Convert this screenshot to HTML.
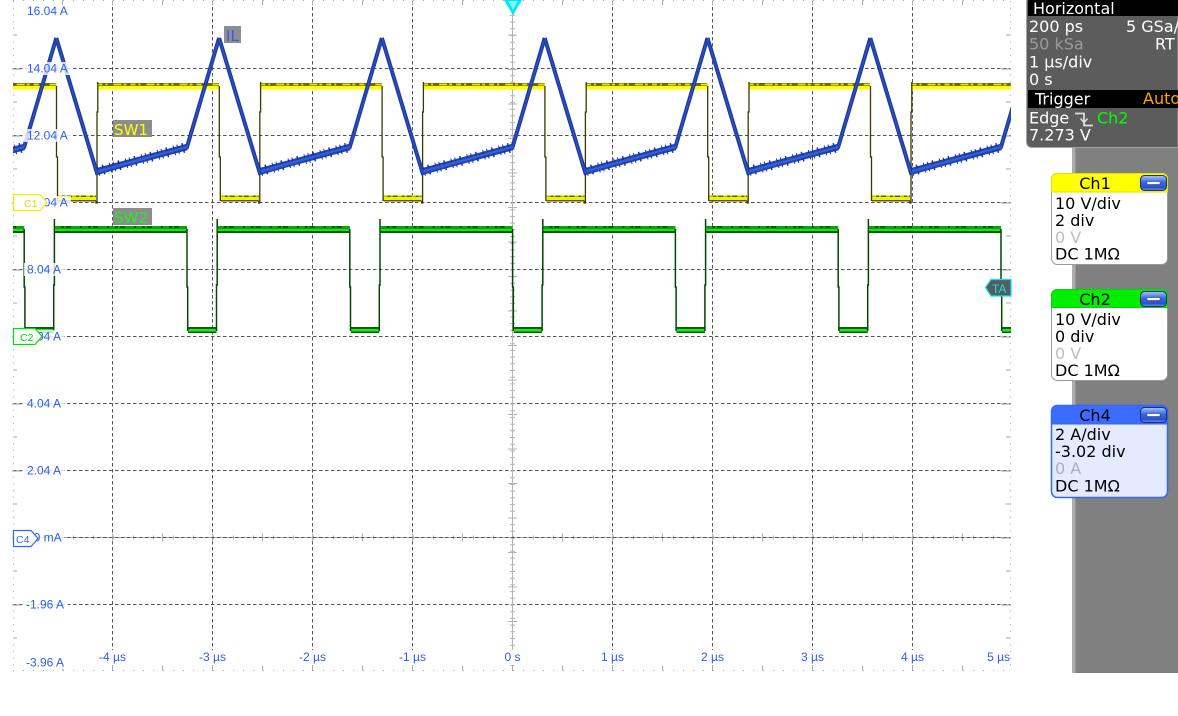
<!DOCTYPE html>
<html><head><meta charset="utf-8"><style>
html,body{margin:0;padding:0;background:#fff;width:1178px;height:716px;overflow:hidden}
svg{display:block}
.ax{font-family:"Liberation Sans",sans-serif;font-size:12px;fill:#2d5cf0}
.pn{font-family:"DejaVu Sans","Liberation Sans",sans-serif;font-size:16px;fill:#fff}
.cb{font-family:"DejaVu Sans","Liberation Sans",sans-serif;font-size:16px;fill:#000}
</style></head><body>
<svg width="1178" height="716" viewBox="0 0 1178 716" xmlns="http://www.w3.org/2000/svg">
<defs>
<clipPath id="plot"><rect x="13" y="0" width="998" height="671"/></clipPath>
<linearGradient id="bgr" x1="0" y1="0" x2="0" y2="1">
<stop offset="0" stop-color="#a8c4ff"/><stop offset="0.45" stop-color="#3a68e0"/><stop offset="0.8" stop-color="#2a50c8"/><stop offset="1" stop-color="#6e94f0"/>
</linearGradient>
<g id="btn"><rect x="0.5" y="0.5" width="26" height="15" rx="4" fill="url(#bgr)" stroke="#1b2f70"/><rect x="7" y="6.5" width="13" height="3" fill="#fff" stroke="#23408a" stroke-width="0.6"/></g>
<g id="yw">
<rect x="2" y="195.5" width="38" height="6" fill="#5e5e00"/>
<rect x="2" y="197" width="38" height="3" fill="#f2f200"/>
<rect x="41.5" y="83" width="121.5" height="6.5" fill="#6a6a08"/>
<rect x="41.5" y="86" width="121.5" height="3.5" fill="#ffff00"/>
<line x1="41.5" y1="84.5" x2="163" y2="84.5" stroke="#e8e800" stroke-width="1.8" stroke-dasharray="5 3 2 6 8 2 3 4"/>
<line x1="2" y1="196" x2="40" y2="196" stroke="#e0e000" stroke-width="1.5" stroke-dasharray="4 3 2 5"/>
<path d="M0.5,86 V157 H1.5 V201 M40,201 V203 H41 V112 H41.8 V82" fill="none" stroke="#3a3a00" stroke-width="1.3"/>
</g>
<g id="gr">
<rect x="-1" y="226" width="132" height="7" fill="#006000"/>
<rect x="-1" y="228.5" width="132" height="2.5" fill="#1ee01e"/>
<line x1="-1" y1="227" x2="131" y2="227" stroke="#18c818" stroke-width="1.2" stroke-dasharray="6 3 2 5 9 2"/>
<rect x="132" y="327" width="28.5" height="6" fill="#006400"/>
<rect x="132" y="329" width="28.5" height="2.5" fill="#22e822"/>
<path d="M131,229 V287 H131.7 V331 M160.5,331 V285 H161.2 V219" stroke="#004800" stroke-width="1.5" fill="none"/>
</g>
<g id="bl">
<path d="M0.3,38 L41,173 L131,147 L163.1,38" stroke="#1f3a9c" stroke-width="4" fill="none"/>
<path d="M42,171 L131,147" stroke="#2244ae" stroke-width="6.5" fill="none"/>
<path d="M42,171 L131,147" stroke="#1a3590" stroke-width="10" stroke-dasharray="1 4 1.5 6 1 3" fill="none"/>
<path d="M0.3,38 L41,173 L131,147 L163.1,38" stroke="#2b50c8" stroke-width="1.4" fill="none"/>
<path d="M42,171 L131,147" stroke="#3360e0" stroke-width="2.2" fill="none"/>
</g>
</defs>

<!-- grid -->
<g stroke="#555" stroke-width="1" stroke-dasharray="3.5 2.5">
<line x1="13" x2="1011" y1="68.5" y2="68.5"/><line x1="13" x2="1011" y1="135.5" y2="135.5"/>
<line x1="13" x2="1011" y1="202.5" y2="202.5"/><line x1="13" x2="1011" y1="269.5" y2="269.5"/>
<line x1="13" x2="1011" y1="336.5" y2="336.5"/><line x1="13" x2="1011" y1="403.5" y2="403.5"/>
<line x1="13" x2="1011" y1="470.5" y2="470.5"/><line x1="13" x2="1011" y1="604.5" y2="604.5"/>
<line x1="112.5" x2="112.5" y1="1" y2="670"/><line x1="212.5" x2="212.5" y1="1" y2="670"/>
<line x1="312.5" x2="312.5" y1="1" y2="670"/><line x1="412.5" x2="412.5" y1="1" y2="670"/>
<line x1="612.5" x2="612.5" y1="1" y2="670"/><line x1="712.5" x2="712.5" y1="1" y2="670"/>
<line x1="812.5" x2="812.5" y1="1" y2="670"/><line x1="912.5" x2="912.5" y1="1" y2="670"/>
</g>
<!-- axes -->
<line x1="512.5" x2="512.5" y1="0" y2="671" stroke="#b4b4b4"/>
<line x1="512.5" x2="512.5" y1="1.5" y2="671" stroke="#b4b4b4" stroke-width="5" stroke-dasharray="1 5.7"/>
<line x1="512.5" x2="512.5" y1="34.5" y2="671" stroke="#b4b4b4" stroke-width="9" stroke-dasharray="1 33.5"/>
<line x1="13" x2="1011" y1="537.5" y2="537.5" stroke="#b4b4b4"/>
<line x1="13" x2="1011" y1="537.5" y2="537.5" stroke="#b4b4b4" stroke-width="4" stroke-dasharray="1 19"/>
<line x1="62" x2="1011" y1="537.5" y2="537.5" stroke="#b4b4b4" stroke-width="8" stroke-dasharray="1 49"/>
<line x1="13" x2="1011" y1="537.5" y2="537.5" stroke="#555" stroke-dasharray="3.5 2.5"/>
<!-- borders -->
<g stroke="#aaa">
<line x1="13.5" x2="13.5" y1="1" y2="671" stroke-dasharray="1 5.7"/>
<line x1="1010.5" x2="1010.5" y1="1" y2="671" stroke-dasharray="1 5.7"/>
<line x1="13" x2="1011" y1="670.5" y2="670.5" stroke-dasharray="1 9"/>
<line x1="13" x2="1011" y1="0.5" y2="0.5" stroke-dasharray="1 9"/>
<line x1="15" x2="15" y1="34.5" y2="671" stroke-width="4" stroke-dasharray="1 66"/>
<line x1="1008" x2="1008" y1="34.5" y2="671" stroke-width="4" stroke-dasharray="1 66"/>
<line x1="17" x2="17" y1="68.5" y2="671" stroke-width="10" stroke-dasharray="1 66" stroke="#999"/>
<line x1="1006" x2="1006" y1="68.5" y2="671" stroke-width="10" stroke-dasharray="1 66" stroke="#999"/>
<line x1="112" x2="1011" y1="667" y2="667" stroke-width="8" stroke-dasharray="1 99" stroke="#999"/>
<line x1="62" x2="1011" y1="668" y2="668" stroke-width="5" stroke-dasharray="1 49"/>
<line x1="62" x2="1011" y1="3" y2="3" stroke-width="5" stroke-dasharray="1 49"/>
</g>

<!-- traces -->
<g clip-path="url(#plot)">
<use href="#yw" x="-106.8"/><use href="#yw" x="56"/><use href="#yw" x="218.8"/><use href="#yw" x="381.6"/><use href="#yw" x="544.4"/><use href="#yw" x="707.2"/><use href="#yw" x="870"/>
<use href="#gr" x="-106.8"/><use href="#gr" x="56"/><use href="#gr" x="218.8"/><use href="#gr" x="381.6"/><use href="#gr" x="544.4"/><use href="#gr" x="707.2"/><use href="#gr" x="870"/>
<use href="#bl" x="-106.8"/><use href="#bl" x="56"/><use href="#bl" x="218.8"/><use href="#bl" x="381.6"/><use href="#bl" x="544.4"/><use href="#bl" x="707.2"/><use href="#bl" x="870"/>
</g>

<!-- axis labels -->
<g fill="#fff" fill-opacity="0.8">
<rect x="24" y="5" width="47" height="12"/>
<rect x="24" y="62" width="47" height="13"/><rect x="24" y="129" width="47" height="13"/>
<rect x="24" y="196" width="47" height="13"/><rect x="24" y="263" width="40" height="13"/>
<rect x="24" y="330" width="40" height="13"/><rect x="24" y="397" width="40" height="13"/>
<rect x="24" y="464" width="40" height="13"/><rect x="24" y="531" width="40" height="13"/>
<rect x="24" y="598" width="44" height="13"/><rect x="24" y="656" width="44" height="13"/>
</g>
<g fill="#fff">
<rect x="97" y="650" width="31" height="15"/><rect x="197" y="650" width="31" height="15"/>
<rect x="297" y="650" width="31" height="15"/><rect x="397" y="650" width="31" height="15"/>
<rect x="503" y="650" width="19" height="15"/><rect x="599" y="650" width="27" height="15"/>
<rect x="699" y="650" width="27" height="15"/><rect x="799" y="650" width="27" height="15"/>
<rect x="899" y="650" width="27" height="15"/><rect x="985" y="650" width="25" height="15"/>
</g>
<g class="ax">
<text x="27" y="15">16.04 A</text>
<text x="27" y="72.5">14.04 A</text>
<text x="27" y="139.5">12.04 A</text>
<text x="27" y="206.5">10.04 A</text>
<text x="27" y="273.5">8.04 A</text>
<text x="27" y="340.5">6.04 A</text>
<text x="27" y="407.5">4.04 A</text>
<text x="27" y="474.5">2.04 A</text>
<text x="27" y="541.5">40 mA</text>
<text x="26" y="608.5">-1.96 A</text>
<text x="26" y="666.5">-3.96 A</text>
</g>
<g class="ax" text-anchor="middle">
<text x="112.5" y="661">-4 µs</text><text x="212.5" y="661">-3 µs</text>
<text x="312.5" y="661">-2 µs</text><text x="412.5" y="661">-1 µs</text>
<text x="512.5" y="661">0 s</text><text x="612.5" y="661">1 µs</text>
<text x="712.5" y="661">2 µs</text><text x="812.5" y="661">3 µs</text>
<text x="912.5" y="661">4 µs</text><text x="1010" y="661" text-anchor="end">5 µs</text>
</g>

<!-- trace labels -->
<rect x="224" y="26" width="17" height="17" fill="#8e8e8e"/>
<text x="226" y="41" font-family="DejaVu Sans,sans-serif" font-size="15" fill="#3a5ae8" textLength="13">IL</text>
<rect x="113" y="120" width="39" height="17" fill="#8c8c8c"/>
<text x="114" y="135" font-family="DejaVu Sans,sans-serif" font-size="15" fill="#ffff00" textLength="34">SW1</text>
<rect x="113" y="208" width="39" height="17" fill="#8c8c8c"/>
<text x="114" y="223" font-family="DejaVu Sans,sans-serif" font-size="15" fill="#22ee22" textLength="34">SW2</text>

<!-- markers -->
<path d="M13.5,194.5 H40 L47,202.5 L40,210.5 H13.5 Z" fill="#fff" stroke="#eeee00" stroke-width="1.2"/>
<text x="24" y="207" font-family="Liberation Sans,sans-serif" font-size="10.5" fill="#dddd00">C1</text>
<path d="M13.5,328.5 H35 L42,336.5 L35,344.5 H13.5 Z" fill="#fff" stroke="#00e000" stroke-width="1.2"/>
<text x="20" y="341" font-family="Liberation Sans,sans-serif" font-size="10.5" fill="#00d000">C2</text>
<path d="M13.5,530.5 H31 L38,538.5 L31,546.5 H13.5 Z" fill="#fff" stroke="#3366ff" stroke-width="1.2"/>
<text x="16" y="543" font-family="Liberation Sans,sans-serif" font-size="10.5" fill="#3366ff">C4</text>
<path d="M985.5,287.5 L991,279.5 H1011 V296 H991 Z" fill="#5a5a5a" stroke="#00e5ff" stroke-width="1.2"/>
<text x="992" y="293" font-family="Liberation Sans,sans-serif" font-size="12" fill="#00e5ff">TA</text>
<path d="M504,0 H522 L513,15 Z" fill="#00e5f5"/>
<path d="M508,1 H518 L513,10 Z" fill="#7ff4fa"/>

<!-- right panel -->
<rect x="1072" y="148" width="106" height="525" fill="#808080"/>
<rect x="1072" y="148" width="3.5" height="525" fill="#ababab"/>
<path d="M1026.5,0 H1178 V147.5 H1032.5 Q1026.5,147.5 1026.5,141.5 Z" fill="#5c5c5c" stroke="#a4a4a4"/>
<rect x="1028" y="0" width="150" height="16" fill="#000"/>
<text class="pn" x="1033" y="14" font-size="17">Horizontal</text>
<text class="pn" x="1029" y="32">200 ps</text>
<text class="pn" x="1126" y="32">5 GSa/</text>
<text class="pn" x="1029" y="49.5" style="fill:#9a9a9a">50 kSa</text>
<text class="pn" x="1155" y="49.5">RT</text>
<text class="pn" x="1029" y="67.5">1 µs/div</text>
<text class="pn" x="1029" y="85">0 s</text>
<rect x="1028" y="90" width="150" height="18" fill="#000"/>
<text class="pn" x="1035" y="104.5" font-size="17">Trigger</text>
<text class="pn" x="1143" y="104" style="fill:#ffa500">Auto</text>
<text class="pn" x="1029" y="123.5">Edge</text>
<polyline points="1075,113.5 1084,113.5 1084,125.5 1093,125.5" fill="none" stroke="#ddd" stroke-width="1.8"/>
<polyline points="1080.5,118.5 1084,122.5 1087.5,118.5" fill="none" stroke="#ddd" stroke-width="1.5"/>
<text class="pn" x="1097" y="123.5" style="fill:#00ff00">Ch2</text>
<text class="pn" x="1029" y="140.5">7.273 V</text>

<!-- Ch1 -->
<rect x="1051.5" y="173.5" width="116" height="91" rx="6" fill="#fff" stroke="#9a9a9a"/>
<path d="M1051.5,192 V179.5 Q1051.5,173.5 1057.5,173.5 H1161.5 Q1167.5,173.5 1167.5,179.5 V192 Z" fill="#ffff00" stroke="#e0e000"/>
<text class="cb" x="1095" y="189" text-anchor="middle" font-size="17">Ch1</text>
<use href="#btn" x="1140" y="175"/>
<text class="cb" x="1055" y="209">10 V/div</text>
<text class="cb" x="1055" y="226">2 div</text>
<text class="cb" x="1055" y="243" style="fill:#bdbdbd">0 V</text>
<text class="cb" x="1055" y="259.5">DC 1MΩ</text>

<!-- Ch2 -->
<rect x="1051.5" y="289.5" width="116" height="91" rx="6" fill="#fff" stroke="#9a9a9a"/>
<path d="M1051.5,307.5 V295.5 Q1051.5,289.5 1057.5,289.5 H1161.5 Q1167.5,289.5 1167.5,295.5 V307.5 Z" fill="#00ee00" stroke="#00d800"/>
<text class="cb" x="1095" y="305" text-anchor="middle" font-size="17">Ch2</text>
<use href="#btn" x="1140" y="291"/>
<text class="cb" x="1055" y="325">10 V/div</text>
<text class="cb" x="1055" y="342">0 div</text>
<text class="cb" x="1055" y="359" style="fill:#bdbdbd">0 V</text>
<text class="cb" x="1055" y="376">DC 1MΩ</text>

<!-- Ch4 -->
<rect x="1051.5" y="405.5" width="116" height="92" rx="6" fill="#e4eaff" stroke="#3366ff" stroke-width="1.5"/>
<path d="M1051.5,424 V411.5 Q1051.5,405.5 1057.5,405.5 H1161.5 Q1167.5,405.5 1167.5,411.5 V424 Z" fill="#3a6cff" stroke="#3366ff"/>
<text class="cb" x="1095" y="421" text-anchor="middle" font-size="17">Ch4</text>
<use href="#btn" x="1140" y="407"/>
<text class="cb" x="1055" y="440">2 A/div</text>
<text class="cb" x="1055" y="457">-3.02 div</text>
<text class="cb" x="1055" y="474" style="fill:#aab0c0">0 A</text>
<text class="cb" x="1055" y="491.5">DC 1MΩ</text>
</svg>
</body></html>
